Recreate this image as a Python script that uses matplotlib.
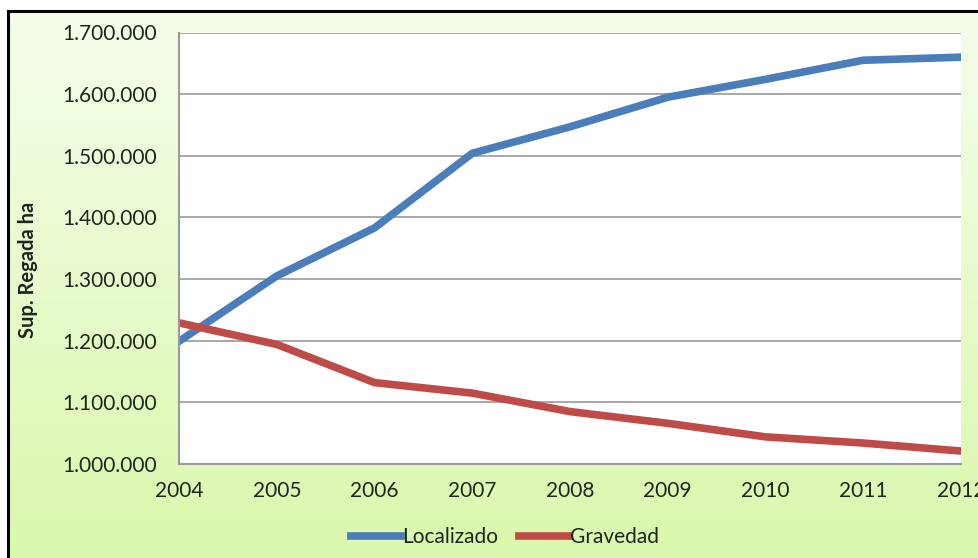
import matplotlib
matplotlib.use("Agg")
import matplotlib.pyplot as plt
import numpy as np
from matplotlib.ticker import FuncFormatter, FixedLocator

plt.rcParams['font.family'] = ['Lato', 'DejaVu Sans']

# Superficie regada por sistema de riego (ha)
years = [2004, 2005, 2006, 2007, 2008, 2009, 2010, 2011, 2012]
localizado = [1199000, 1305000, 1383000, 1504000, 1547000, 1595000, 1624000, 1655000, 1660000]
gravedad = [1229000, 1194000, 1132000, 1115000, 1085000, 1066000, 1044000, 1034000, 1021000]
y_ticks = [1000000, 1100000, 1200000, 1300000, 1400000, 1500000, 1600000, 1700000]

W, H = 979, 558
fig = plt.figure(figsize=(W / 100, H / 100), dpi=100)
fig.patch.set_facecolor('white')

# Green gradient panel with black frame
bg = fig.add_axes([0, 0, 1, 1], zorder=-1)
bg.set_xlim(0, W)
bg.set_ylim(H, 0)
bg.axis('off')
top_c = np.array([0xf5, 0xfd, 0xeb]) / 255
bot_c = np.array([0xda, 0xf8, 0xab]) / 255
t = np.linspace(0, 1, 256)[:, None]
grad = (top_c[None, :] * (1 - t) + bot_c[None, :] * t)[:, None, :]
bg.imshow(grad, extent=[8, W + 10, H + 10, 11], aspect='auto', interpolation='bilinear')
bg.plot([8, 8], [11, H + 10], color='black', lw=2.2, solid_capstyle='projecting')
bg.plot([8, W + 10], [11, 11], color='black', lw=2.2, solid_capstyle='projecting')

left, right, top, bottom = 179, 961, 32.5, 464
ax = fig.add_axes([left / W, 1 - bottom / H, (right - left) / W, (bottom - top) / H])
ax.set_facecolor('white')

ax.plot(years, localizado, color='#4a7ebb', lw=5.5, label='Localizado', solid_joinstyle='round')
ax.plot(years, gravedad, color='#be4b48', lw=5.5, label='Gravedad', solid_joinstyle='round')

ax.set_xlim(2004, 2012)
ax.set_ylim(1000000, 1700000)
ax.yaxis.set_major_locator(FixedLocator(y_ticks))
ax.xaxis.set_major_locator(FixedLocator(years))
ax.yaxis.set_major_formatter(FuncFormatter(lambda v, p: f"{int(v):,}".replace(',', '.')))
ax.grid(axis='y', color='#9a9a9a', lw=1.2)
ax.set_axisbelow(True)
for s in ('top', 'right'):
    ax.spines[s].set_visible(False)
for s in ('left', 'bottom'):
    ax.spines[s].set_color('#9a9a9a')
    ax.spines[s].set_linewidth(1.5)
ax.tick_params(length=0, labelsize=15, labelcolor='#1c261c')
ax.tick_params(axis='y', pad=16)
ax.tick_params(axis='x', pad=12)
for lbl in ax.get_xticklabels():
    lbl.set_clip_on(False)

fig.text(28 / W, 1 - 270 / H, 'Sup. Regada ha', rotation=90, ha='center', va='center',
         fontsize=14.5, fontweight='bold', color='#1c261c')

fig.legend(loc='center', bbox_to_anchor=(505 / W, 1 - 537 / H), ncol=2, frameon=False,
           fontsize=15, handlelength=2.4, handletextpad=0.05, columnspacing=1.0,
           labelcolor='#1c261c')

fig.savefig('out.png', dpi=100)
